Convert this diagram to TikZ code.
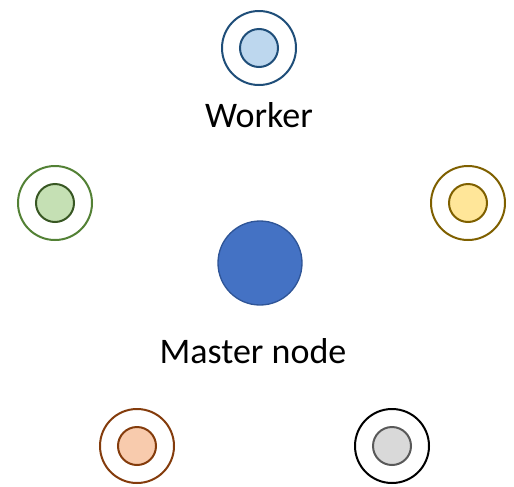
\documentclass[tikz,border=0pt]{standalone}
\usepackage{fontspec}
\setmainfont{Carlito}
\usepackage{tikz}
\usetikzlibrary{positioning}
\definecolor{blueline}{HTML}{1F4E79}
\definecolor{bluefill}{HTML}{BDD7EE}
\definecolor{greenline}{HTML}{538135}
\definecolor{greendark}{HTML}{385723}
\definecolor{greenfill}{HTML}{C5E0B4}
\definecolor{goldline}{HTML}{7F6000}
\definecolor{goldfill}{HTML}{FFE699}
\definecolor{rustline}{HTML}{843C0C}
\definecolor{rustfill}{HTML}{F8CBAD}
\definecolor{greyline}{HTML}{595959}
\definecolor{greyfill}{HTML}{D9D9D9}
\definecolor{masterfill}{HTML}{4472C4}
\definecolor{masterline}{HTML}{2F5597}
\tikzstyle{ring} = [draw, circle, line width=1.5pt, minimum size=55.5pt, inner sep=0pt]
\tikzstyle{core} = [draw, circle, line width=1.5pt, minimum size=28.5pt, inner sep=0pt]
\tikzstyle{master} = [draw=masterline, fill=masterfill, circle, line width=1pt, minimum size=63pt, inner sep=0pt]
\tikzstyle{txt} = [anchor=base, inner sep=0pt, font=\fontsize{27}{32}\selectfont]

\begin{document}
\begin{tikzpicture}[x=0.75pt, y=-0.75pt]
    \useasboundingbox (0,0) rectangle (514,486);
    % workers
    \node[ring, draw=blueline] (w1) at (259,48) {};
    \node[core, draw=blueline, fill=bluefill] (c1) at (w1) {};
    \node[ring, draw=greenline] (w2) at (55,203) {};
    \node[core, draw=greendark, fill=greenfill] (c2) at (w2) {};
    \node[ring, draw=goldline] (w3) at (468,203) {};
    \node[core, draw=goldline, fill=goldfill] (c3) at (w3) {};
    \node[ring, draw=rustline] (w4) at (137,446) {};
    \node[core, draw=rustline, fill=rustfill] (c4) at (w4) {};
    \node[ring, draw=black] (w5) at (392,446) {};
    \node[core, draw=greyline, fill=greyfill] (c5) at (w5) {};
    \node[txt] (wl) at (259,127) {Worker};
    % master
    \node[master] (m) at (260,263) {};
    \node[txt] (ml) at (253,363) {Master node};
\end{tikzpicture}
\end{document}
